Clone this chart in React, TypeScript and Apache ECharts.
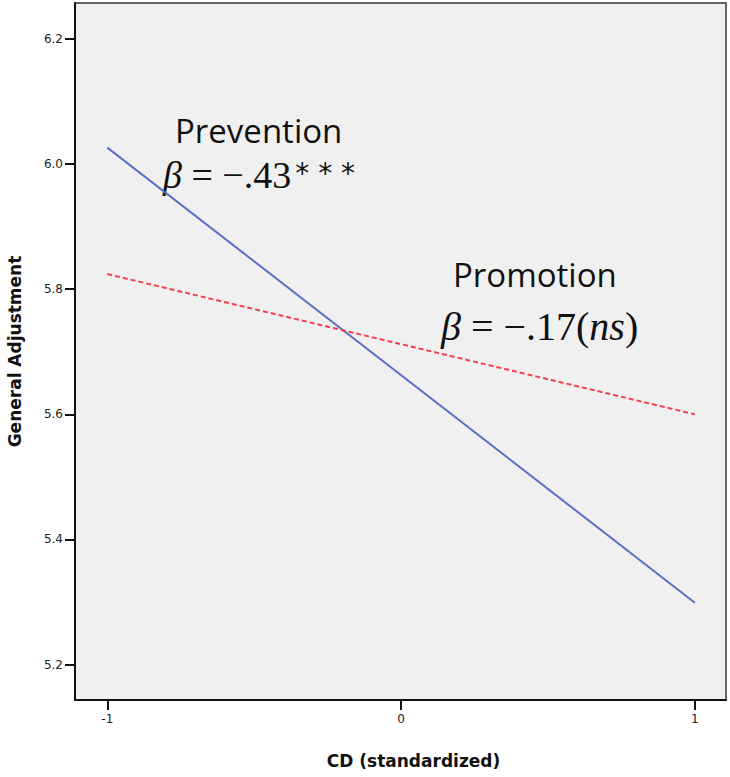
import React, { useEffect, useRef } from "react";
import * as echarts from "echarts";

const xValues = [-1, 1];
const preventionValues = [6.026, 5.299];
const promotionValues = [5.824, 5.6];
const xTicks = [-1, 0, 1];
const yTicks = [5.2, 5.4, 5.6, 5.8, 6.0, 6.2];

export default function App() {
  const ref = useRef<HTMLDivElement>(null);
  useEffect(() => {
    document.body.style.margin = "0";
    const chart = echarts.init(ref.current!, null, { renderer: "svg" });
    const sansLabel = { fontFamily: "DejaVu Sans", fontSize: 12, color: "#222" };
    chart.setOption({
      animation: false,
      backgroundColor: "#fff",
      grid: {
        left: 75,
        top: 3,
        right: 4,
        bottom: 77,
        outerBoundsMode: "none",
        containLabel: false,
        show: true,
        backgroundColor: "#f0f0f0",
        borderColor: "#666",
        borderWidth: 2,
      },
      xAxis: {
        type: "value",
        min: -1.11,
        max: 1.106,
        name: "CD (standardized)",
        nameLocation: "middle",
        nameGap: 52,
        nameTextStyle: {
          fontFamily: "DejaVu Sans",
          fontWeight: "bold",
          fontSize: 17,
          color: "#111",
          padding: [0, 0, 0, 26],
        },
        axisLine: { show: true, onZero: false, lineStyle: { color: "#111", width: 2 } },
        axisTick: { show: true, customValues: xTicks, length: 10, lineStyle: { color: "#111", width: 2 } },
        axisLabel: { customValues: xTicks, margin: 13, ...sansLabel },
        splitLine: { show: false },
      },
      yAxis: {
        type: "value",
        min: 5.1436,
        max: 6.257,
        name: "General Adjustment",
        nameLocation: "middle",
        nameGap: 52,
        nameTextStyle: { fontFamily: "DejaVu Sans", fontWeight: "bold", fontSize: 17, color: "#111" },
        axisLine: { show: true, onZero: false, lineStyle: { color: "#111", width: 2 } },
        axisTick: { show: true, customValues: yTicks, length: 10, lineStyle: { color: "#111", width: 2 } },
        axisLabel: {
          customValues: yTicks,
          margin: 12,
          formatter: (v: number) => v.toFixed(1),
          ...sansLabel,
        },
        splitLine: { show: false },
      },
      series: [
        {
          name: "Prevention",
          type: "line",
          data: xValues.map((x, i) => [x, preventionValues[i]]),
          symbol: "none",
          lineStyle: { color: "#5b6fc6", width: 2 },
        },
        {
          name: "Promotion",
          type: "line",
          data: xValues.map((x, i) => [x, promotionValues[i]]),
          symbol: "none",
          lineStyle: { color: "#f2404f", width: 2, type: [5, 3] },
        },
      ],
      graphic: [
        {
          type: "text",
          left: 175,
          top: 114,
          style: { text: "Prevention", fontFamily: "Open Sans", fontSize: 33, lineHeight: 32, fill: "#111" },
        },
        {
          type: "text",
          left: 163,
          top: 156,
          style: {
            text: "{b|β}{t| = −.43}{s|* * *}",
            rich: {
              b: { fontFamily: "Liberation Serif", fontStyle: "italic", fontSize: 38, lineHeight: 32, fill: "#111" },
              t: { fontFamily: "Liberation Serif", fontSize: 38, lineHeight: 32, fill: "#111" },
              s: {
                fontFamily: "DejaVu Sans",
                fontSize: 28,
                lineHeight: 32,
                fill: "#111",
                verticalAlign: "top",
                padding: [0, 0, 0, 4],
              },
            },
          },
        },
        {
          type: "text",
          left: 453,
          top: 258,
          style: { text: "Promotion", fontFamily: "Open Sans", fontSize: 33, fill: "#111" },
        },
        {
          type: "text",
          left: 441,
          top: 306,
          style: {
            text: "{b|β}{t| = −.17(}{i|ns}{t|)}",
            rich: {
              b: { fontFamily: "Liberation Serif", fontStyle: "italic", fontSize: 40, fill: "#111" },
              t: { fontFamily: "Liberation Serif", fontSize: 40, fill: "#111" },
              i: { fontFamily: "Liberation Serif", fontStyle: "italic", fontSize: 40, fill: "#111" },
            },
          },
        },
      ],
    });
    return () => chart.dispose();
  }, []);
  return <div ref={ref} style={{ width: 730, height: 777 }} />;
}
